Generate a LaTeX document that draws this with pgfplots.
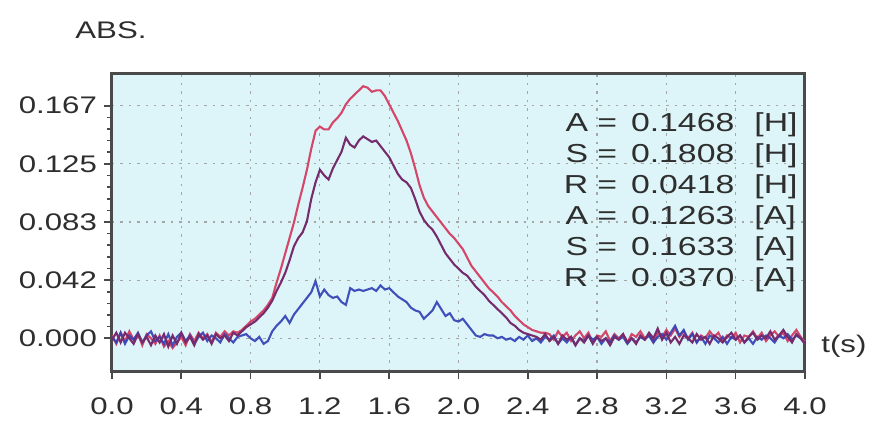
\documentclass[border=0pt]{standalone}
\usepackage{pgfplots}
\pgfplotsset{compat=1.18}
\usepackage{fontspec}
\setmainfont{Liberation Sans}[FakeStretch=1.3]
\definecolor{bgc}{HTML}{DDF5F8}
\definecolor{framec}{HTML}{4A4A4A}
\definecolor{tickc}{HTML}{2E2E2E}
\definecolor{cred}{HTML}{D4466A}
\definecolor{cpur}{HTML}{762C6C}
\definecolor{cblu}{HTML}{2F3FB5}
\begin{document}
\begin{tikzpicture}
\begin{axis}[
  scale only axis, width=346.5pt, height=149pt,
  xmin=0, xmax=4, ymin=-0.0235, ymax=0.1905,
  axis background/.style={fill=bgc},
  axis line style={draw=framec, line width=1.5pt},
  xtick={0,0.4,0.8,1.2,1.6,2,2.4,2.8,3.2,3.6,4},
  xticklabels={0.0,0.4,0.8,1.2,1.6,2.0,2.4,2.8,3.2,3.6,4.0},
  ytick={0,0.04175,0.0835,0.12525,0.167},
  yticklabels={0.000,0.042,0.083,0.125,0.167},
  minor y tick num=4,
  tick align=outside, xtick pos=bottom, ytick pos=left,
  major tick length=4pt, minor tick length=2.5pt,
  tick style={draw=framec, line width=0.8pt},
  grid=major, grid style={gray!70, line width=0.6pt, dash pattern=on 1.2pt off 3pt},
  ticklabel style={font=\fontsize{12}{14}\selectfont, text=tickc},
  /pgf/number format/assume math mode=true,
  xticklabel style={yshift=-6pt},
  every axis plot/.append style={line width=1.05pt, mark=none},
]
\addplot[cred] coordinates {
(0.000,0.002)(0.025,-0.004)(0.050,0.004)(0.075,-0.002)(0.100,0.005)(0.125,-0.001)(0.150,0.003)(0.175,-0.005)(0.200,0.003)(0.225,0.000)
(0.250,-0.004)(0.275,0.002)(0.300,-0.006)(0.325,-0.002)(0.350,-0.007)(0.375,-0.003)(0.400,0.001)(0.425,-0.005)(0.450,0.003)(0.475,-0.002)
(0.500,0.004)(0.525,0.000)(0.550,0.003)(0.575,-0.003)(0.600,0.004)(0.625,0.001)(0.650,0.005)(0.675,0.002)(0.700,0.005)(0.725,0.004)
(0.750,0.006)(0.775,0.009)(0.800,0.012)(0.825,0.014)(0.850,0.017)(0.875,0.020)(0.900,0.024)(0.925,0.029)(0.950,0.040)(0.975,0.050)
(1.000,0.061)(1.025,0.072)(1.050,0.083)(1.075,0.096)(1.100,0.108)(1.125,0.121)(1.150,0.136)(1.175,0.149)(1.200,0.152)(1.225,0.150)
(1.250,0.150)(1.275,0.155)(1.300,0.158)(1.325,0.162)(1.350,0.168)(1.375,0.172)(1.400,0.175)(1.425,0.178)(1.450,0.181)(1.475,0.180)
(1.500,0.177)(1.525,0.178)(1.550,0.178)(1.575,0.174)(1.600,0.168)(1.625,0.162)(1.650,0.156)(1.675,0.149)(1.700,0.142)(1.725,0.133)
(1.750,0.122)(1.775,0.110)(1.800,0.101)(1.825,0.095)(1.850,0.091)(1.875,0.087)(1.900,0.083)(1.925,0.079)(1.950,0.075)(1.975,0.072)
(2.000,0.068)(2.025,0.064)(2.050,0.058)(2.075,0.052)(2.100,0.048)(2.125,0.044)(2.150,0.040)(2.175,0.036)(2.200,0.033)(2.225,0.030)
(2.250,0.026)(2.275,0.023)(2.300,0.020)(2.325,0.016)(2.350,0.013)(2.375,0.010)(2.400,0.008)(2.425,0.006)(2.450,0.005)(2.475,0.004)
(2.500,0.004)(2.525,0.003)(2.550,-0.001)(2.575,0.005)(2.600,0.001)(2.625,0.004)(2.650,-0.002)(2.675,0.002)(2.700,0.005)(2.725,0.000)
(2.750,0.004)(2.775,-0.003)(2.800,0.002)(2.825,0.001)(2.850,0.005)(2.875,-0.002)(2.900,0.003)(2.925,0.000)(2.950,0.003)(2.975,-0.003)
(3.000,0.003)(3.025,0.001)(3.050,0.005)(3.075,0.000)(3.100,0.002)(3.125,-0.003)(3.150,0.004)(3.175,0.001)(3.200,0.006)(3.225,0.002)
(3.250,0.007)(3.275,0.001)(3.300,0.005)(3.325,0.000)(3.350,0.004)(3.375,-0.003)(3.400,0.002)(3.425,0.000)(3.450,0.005)(3.475,0.001)
(3.500,0.004)(3.525,-0.002)(3.550,0.002)(3.575,0.000)(3.600,0.004)(3.625,-0.003)(3.650,0.002)(3.675,0.001)(3.700,0.005)(3.725,0.000)
(3.750,0.004)(3.775,-0.002)(3.800,0.002)(3.825,0.005)(3.850,0.001)(3.875,0.004)(3.900,-0.002)(3.925,0.002)(3.950,0.006)(3.975,0.001)
(4.000,-0.003)
};
\addplot[cblu, opacity=0.9] coordinates {
(0.000,0.001)(0.025,-0.003)(0.050,0.004)(0.075,-0.004)(0.100,0.002)(0.125,-0.001)(0.150,0.004)(0.175,-0.003)(0.200,0.002)(0.225,0.005)
(0.250,-0.002)(0.275,0.001)(0.300,-0.004)(0.325,0.003)(0.350,-0.005)(0.375,0.001)(0.400,0.004)(0.425,-0.002)(0.450,0.002)(0.475,-0.004)
(0.500,0.001)(0.525,0.004)(0.550,-0.002)(0.575,0.002)(0.600,0.000)(0.625,-0.003)(0.650,0.003)(0.675,0.000)(0.700,-0.003)(0.725,0.001)
(0.750,0.002)(0.775,0.003)(0.800,0.000)(0.825,-0.002)(0.850,0.001)(0.875,-0.004)(0.900,-0.002)(0.925,0.005)(0.950,0.009)(0.975,0.012)
(1.000,0.016)(1.025,0.011)(1.050,0.017)(1.075,0.021)(1.100,0.025)(1.125,0.029)(1.150,0.033)(1.175,0.041)(1.200,0.030)(1.225,0.035)
(1.250,0.031)(1.275,0.029)(1.300,0.030)(1.325,0.026)(1.350,0.024)(1.375,0.036)(1.400,0.034)(1.425,0.035)(1.450,0.034)(1.475,0.035)
(1.500,0.036)(1.525,0.034)(1.550,0.038)(1.575,0.035)(1.600,0.036)(1.625,0.033)(1.650,0.030)(1.675,0.028)(1.700,0.026)(1.725,0.022)
(1.750,0.020)(1.775,0.019)(1.800,0.014)(1.825,0.017)(1.850,0.020)(1.875,0.026)(1.900,0.021)(1.925,0.016)(1.950,0.018)(1.975,0.013)
(2.000,0.012)(2.025,0.014)(2.050,0.010)(2.075,0.006)(2.100,0.002)(2.125,0.001)(2.150,0.003)(2.175,0.002)(2.200,0.002)(2.225,0.000)
(2.250,0.001)(2.275,-0.001)(2.300,0.000)(2.325,-0.002)(2.350,0.001)(2.375,-0.001)(2.400,0.002)(2.425,-0.002)(2.450,0.000)(2.475,-0.003)
(2.500,0.001)(2.525,-0.001)(2.550,0.002)(2.575,-0.004)(2.600,0.000)(2.625,-0.003)(2.650,0.001)(2.675,-0.005)(2.700,0.000)(2.725,-0.002)
(2.750,0.002)(2.775,-0.001)(2.800,0.001)(2.825,-0.004)(2.850,0.000)(2.875,-0.003)(2.900,0.002)(2.925,-0.001)(2.950,0.001)(2.975,-0.004)
(3.000,0.000)(3.025,-0.003)(3.050,0.001)(3.075,-0.001)(3.100,0.002)(3.125,-0.003)(3.150,0.001)(3.175,0.003)(3.200,-0.001)(3.225,0.004)
(3.250,0.009)(3.275,0.002)(3.300,0.006)(3.325,-0.001)(3.350,0.003)(3.375,-0.003)(3.400,0.001)(3.425,-0.004)(3.450,0.002)(3.475,0.000)
(3.500,-0.003)(3.525,0.001)(3.550,-0.004)(3.575,0.001)(3.600,-0.001)(3.625,0.002)(3.650,-0.003)(3.675,0.000)(3.700,-0.004)(3.725,0.001)
(3.750,-0.001)(3.775,0.002)(3.800,0.000)(3.825,-0.003)(3.850,0.002)(3.875,0.000)(3.900,0.003)(3.925,-0.001)(3.950,0.002)(3.975,0.000)
(4.000,-0.004)
};
\addplot[cpur] coordinates {
(0.000,-0.001)(0.025,0.004)(0.050,-0.003)(0.075,0.004)(0.100,0.000)(0.125,-0.004)(0.150,0.003)(0.175,-0.003)(0.200,0.001)(0.225,-0.005)
(0.250,0.002)(0.275,-0.003)(0.300,0.003)(0.325,-0.006)(0.350,0.002)(0.375,-0.004)(0.400,0.004)(0.425,-0.003)(0.450,0.001)(0.475,-0.005)
(0.500,0.003)(0.525,-0.001)(0.550,0.002)(0.575,-0.004)(0.600,0.003)(0.625,0.000)(0.650,0.002)(0.675,-0.002)(0.700,0.004)(0.725,0.002)
(0.750,0.005)(0.775,0.008)(0.800,0.010)(0.825,0.012)(0.850,0.015)(0.875,0.018)(0.900,0.022)(0.925,0.027)(0.950,0.034)(0.975,0.040)
(1.000,0.047)(1.025,0.056)(1.050,0.066)(1.075,0.072)(1.100,0.076)(1.125,0.084)(1.150,0.100)(1.175,0.112)(1.200,0.121)(1.225,0.117)
(1.250,0.114)(1.275,0.122)(1.300,0.128)(1.325,0.134)(1.350,0.144)(1.375,0.139)(1.400,0.137)(1.425,0.142)(1.450,0.145)(1.475,0.143)
(1.500,0.141)(1.525,0.142)(1.550,0.138)(1.575,0.134)(1.600,0.130)(1.625,0.124)(1.650,0.118)(1.675,0.114)(1.700,0.112)(1.725,0.108)
(1.750,0.100)(1.775,0.091)(1.800,0.085)(1.825,0.081)(1.850,0.078)(1.875,0.073)(1.900,0.067)(1.925,0.061)(1.950,0.057)(1.975,0.053)
(2.000,0.050)(2.025,0.047)(2.050,0.045)(2.075,0.041)(2.100,0.037)(2.125,0.034)(2.150,0.031)(2.175,0.027)(2.200,0.024)(2.225,0.021)
(2.250,0.018)(2.275,0.015)(2.300,0.011)(2.325,0.009)(2.350,0.006)(2.375,0.004)(2.400,0.003)(2.425,0.002)(2.450,0.001)
(2.475,-0.001)(2.500,0.003)(2.525,-0.002)(2.550,0.001)(2.575,-0.004)(2.600,0.002)(2.625,-0.001)(2.650,0.001)(2.675,-0.005)(2.700,0.000)
(2.725,-0.003)(2.750,0.002)(2.775,-0.004)(2.800,0.001)(2.825,-0.002)(2.850,0.000)(2.875,-0.005)(2.900,0.001)(2.925,-0.001)(2.950,0.003)
(2.975,-0.003)(3.000,0.000)(3.025,-0.004)(3.050,0.002)(3.075,-0.001)(3.100,0.004)(3.125,0.000)(3.150,0.007)(3.175,-0.001)(3.200,0.004)
(3.225,-0.003)(3.250,0.001)(3.275,-0.004)(3.300,0.002)(3.325,0.000)(3.350,-0.003)(3.375,0.003)(3.400,-0.001)(3.425,0.001)(3.450,-0.004)
(3.475,0.002)(3.500,0.000)(3.525,-0.003)(3.550,0.001)(3.575,0.004)(3.600,-0.001)(3.625,0.002)(3.650,-0.003)(3.675,0.001)(3.700,0.004)
(3.725,-0.001)(3.750,0.002)(3.775,0.000)(3.800,0.005)(3.825,-0.001)(3.850,0.002)(3.875,0.006)(3.900,0.001)(3.925,-0.003)(3.950,0.003)
(3.975,0.000)(4.000,-0.004)
};
\coordinate (bl) at (rel axis cs:0,0);
\coordinate (tl) at (rel axis cs:0,1);
\coordinate (tr) at (rel axis cs:1,1);
\coordinate (tlab) at (axis cs:4,-0.0057);
\end{axis}
\node[anchor=west, font=\fontsize{12}{14}\selectfont, text=tickc, inner sep=0pt] at ([shift={(-18.5pt,21.5pt)}]tl) {ABS.};
\node[anchor=north east, font=\fontsize{13}{15.5}\selectfont, text=tickc, inner sep=0pt] at ([shift={(-3.5pt,-18.4pt)}]tr)
  {\begin{tabular}{@{}r@{\hspace{4.5pt}}c@{\hspace{7pt}}r@{\hspace{10pt}}l@{}}
   A & = & 0.1468 & [H]\\
   S & = & 0.1808 & [H]\\
   R & = & 0.0418 & [H]\\
   A & = & 0.1263 & [A]\\
   S & = & 0.1633 & [A]\\
   R & = & 0.0370 & [A]
   \end{tabular}};
\node[anchor=west, font=\fontsize{12}{14}\selectfont, text=tickc, inner sep=0pt] at ([xshift=8pt]tlab) {t(s)};
\pgfresetboundingbox
\path[use as bounding box] ([shift={(-56pt,-32.5pt)}]bl) rectangle ++(434.5pt,218pt);
\end{tikzpicture}
\end{document}
